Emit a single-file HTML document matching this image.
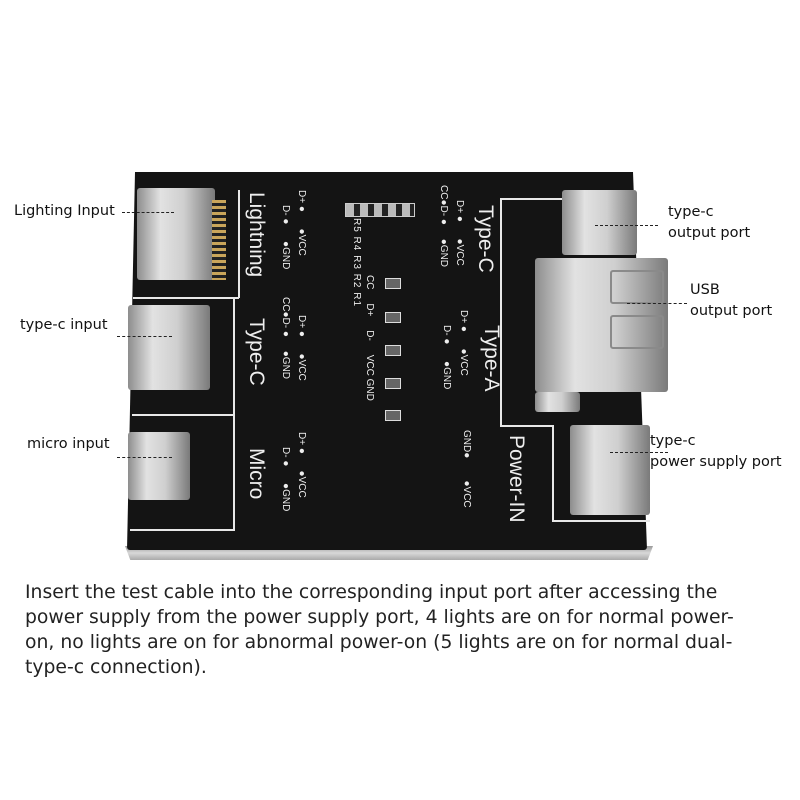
<!DOCTYPE html>
<html><head><meta charset="utf-8"><style>
body{margin:0;width:800px;height:800px;background:#fff;position:relative;overflow:hidden;font-family:"Liberation Sans",sans-serif}
.a{position:absolute}
.board{left:127px;top:172px;width:520px;height:378px;background:#141414;border-radius:3px;clip-path:polygon(8px 0,506px 0,520px 378px,0 378px)}
.edge{left:125px;top:546px;width:528px;height:14px;background:linear-gradient(#9a9a9a,#d8d8d8,#aaa);clip-path:polygon(0 0,100% 0,99% 100%,1% 100%)}
.silver{background:linear-gradient(90deg,#8d8d8d,#e2e2e2 30%,#cfcfcf 60%,#7a7a7a);border-radius:3px}
.w{background:#e8e8e8}
.rt{color:#eee;transform-origin:0 0;transform:rotate(90deg);white-space:nowrap}
.big{font-size:21px}
.sm{font-size:10px}
.lbl{font-size:14.5px;color:#111;font-family:"DejaVu Sans",sans-serif}
.dash{border-top:1.5px dashed #222;height:0}
.txt{left:25px;top:580px;font-size:18.8px;line-height:25px;color:#222;white-space:nowrap;font-family:"DejaVu Sans",sans-serif}
.led{width:14px;height:9px;border:1.5px solid #ddd;background:#666}
</style></head><body>
<div class="a edge"></div>
<div class="a board"></div>
<div class="a w" style="left:238px;top:190px;width:2px;height:108px"></div>
<div class="a w" style="left:133px;top:297px;width:106px;height:2px"></div>
<div class="a w" style="left:132px;top:414px;width:103px;height:2px"></div>
<div class="a w" style="left:233px;top:298px;width:2px;height:232px"></div>
<div class="a w" style="left:130px;top:529px;width:105px;height:2px"></div>
<div class="a w" style="left:500px;top:198px;width:2px;height:228px"></div>
<div class="a w" style="left:500px;top:198px;width:65px;height:2px"></div>
<div class="a w" style="left:500px;top:425px;width:52px;height:2px"></div>
<div class="a w" style="left:552px;top:425px;width:2px;height:96px"></div>
<div class="a w" style="left:552px;top:520px;width:98px;height:2px"></div>
<div class="a silver" style="left:137px;top:188px;width:78px;height:92px"></div>
<div class="a" style="left:212px;top:200px;width:14px;height:80px;background:repeating-linear-gradient(#c9a55a 0 3px,#222 3px 6px)"></div>
<div class="a silver" style="left:128px;top:305px;width:82px;height:85px"></div>
<div class="a silver" style="left:128px;top:432px;width:62px;height:68px"></div>
<div class="a silver" style="left:562px;top:190px;width:75px;height:65px"></div>
<div class="a silver" style="left:535px;top:258px;width:133px;height:134px"></div>
<div class="a" style="left:610px;top:270px;width:50px;height:30px;border:2px solid #8a8a8a;border-radius:3px"></div>
<div class="a" style="left:610px;top:315px;width:50px;height:30px;border:2px solid #8a8a8a;border-radius:3px"></div>
<div class="a silver" style="left:535px;top:392px;width:45px;height:20px"></div>
<div class="a silver" style="left:570px;top:425px;width:80px;height:90px"></div>
<div class="a rt big" style="left:268px;top:192px">Lightning</div>
<div class="a rt big" style="left:268px;top:318px">Type-C</div>
<div class="a rt big" style="left:268px;top:448px">Micro</div>
<div class="a rt big" style="left:497px;top:205px">Type-C</div>
<div class="a rt big" style="left:503px;top:325px">Type-A</div>
<div class="a rt big" style="left:528px;top:435px">Power-IN</div>
<div class="a rt sm" style="left:307px;top:190px">D+ ●&nbsp;&nbsp;&nbsp;&nbsp;&nbsp;&nbsp;●VCC</div>
<div class="a rt sm" style="left:291px;top:205px">D- ●&nbsp;&nbsp;&nbsp;&nbsp;&nbsp;&nbsp;●GND</div>
<div class="a rt sm" style="left:307px;top:315px">D+ ●&nbsp;&nbsp;&nbsp;&nbsp;&nbsp;&nbsp;●VCC</div>
<div class="a rt sm" style="left:291px;top:297px">CC●D- ●&nbsp;&nbsp;&nbsp;&nbsp;&nbsp;●GND</div>
<div class="a rt sm" style="left:307px;top:432px">D+ ●&nbsp;&nbsp;&nbsp;&nbsp;&nbsp;&nbsp;●VCC</div>
<div class="a rt sm" style="left:291px;top:447px">D- ●&nbsp;&nbsp;&nbsp;&nbsp;&nbsp;&nbsp;●GND</div>
<div class="a rt sm" style="left:465px;top:200px">D+ ●&nbsp;&nbsp;&nbsp;&nbsp;&nbsp;&nbsp;●VCC</div>
<div class="a rt sm" style="left:449px;top:185px">CC●D- ●&nbsp;&nbsp;&nbsp;&nbsp;&nbsp;●GND</div>
<div class="a rt sm" style="left:469px;top:310px">D+ ●&nbsp;&nbsp;&nbsp;&nbsp;&nbsp;&nbsp;●VCC</div>
<div class="a rt sm" style="left:452px;top:325px">D- ●&nbsp;&nbsp;&nbsp;&nbsp;&nbsp;&nbsp;●GND</div>
<div class="a rt sm" style="left:472px;top:430px">GND●&nbsp;&nbsp;&nbsp;&nbsp;&nbsp;&nbsp;&nbsp;&nbsp;●VCC</div>
<div class="a rt sm" style="left:375px;top:275px">CC&nbsp;&nbsp;&nbsp;&nbsp;&nbsp;D+&nbsp;&nbsp;&nbsp;&nbsp;&nbsp;D-&nbsp;&nbsp;&nbsp;&nbsp;&nbsp;VCC&nbsp;GND</div>
<div class="a rt sm" style="left:362px;top:218px;letter-spacing:1px">R5 R4 R3 R2 R1</div>
<div class="a led" style="left:385px;top:278px"></div>
<div class="a led" style="left:385px;top:312px"></div>
<div class="a led" style="left:385px;top:345px"></div>
<div class="a led" style="left:385px;top:378px"></div>
<div class="a led" style="left:385px;top:410px"></div>
<div class="a" style="left:345px;top:203px;width:68px;height:12px;border:1px solid #ccc;background:repeating-linear-gradient(90deg,#bbb 0 8px,#222 8px 14px)"></div>
<div class="a lbl" style="left:14px;top:203px">Lighting Input</div>
<div class="a dash" style="left:122px;top:212px;width:52px"></div>
<div class="a lbl" style="left:20px;top:317px">type-c input</div>
<div class="a dash" style="left:117px;top:336px;width:55px"></div>
<div class="a lbl" style="left:27px;top:436px">micro input</div>
<div class="a dash" style="left:117px;top:457px;width:55px"></div>
<div class="a lbl" style="left:668px;top:202px;line-height:21px">type-c<br>output port</div>
<div class="a dash" style="left:595px;top:225px;width:63px"></div>
<div class="a lbl" style="left:690px;top:280px;line-height:21px">USB<br>output port</div>
<div class="a dash" style="left:627px;top:303px;width:60px"></div>
<div class="a lbl" style="left:650px;top:431px;line-height:21px">type-c<br>power supply port</div>
<div class="a dash" style="left:610px;top:452px;width:58px"></div>
<div class="a txt">Insert the test cable into the corresponding input port after accessing the<br>power supply from the power supply port, 4 lights are on for normal power-<br>on, no lights are on for abnormal power-on (5 lights are on for normal dual-<br>type-c connection).</div>
</body></html>
